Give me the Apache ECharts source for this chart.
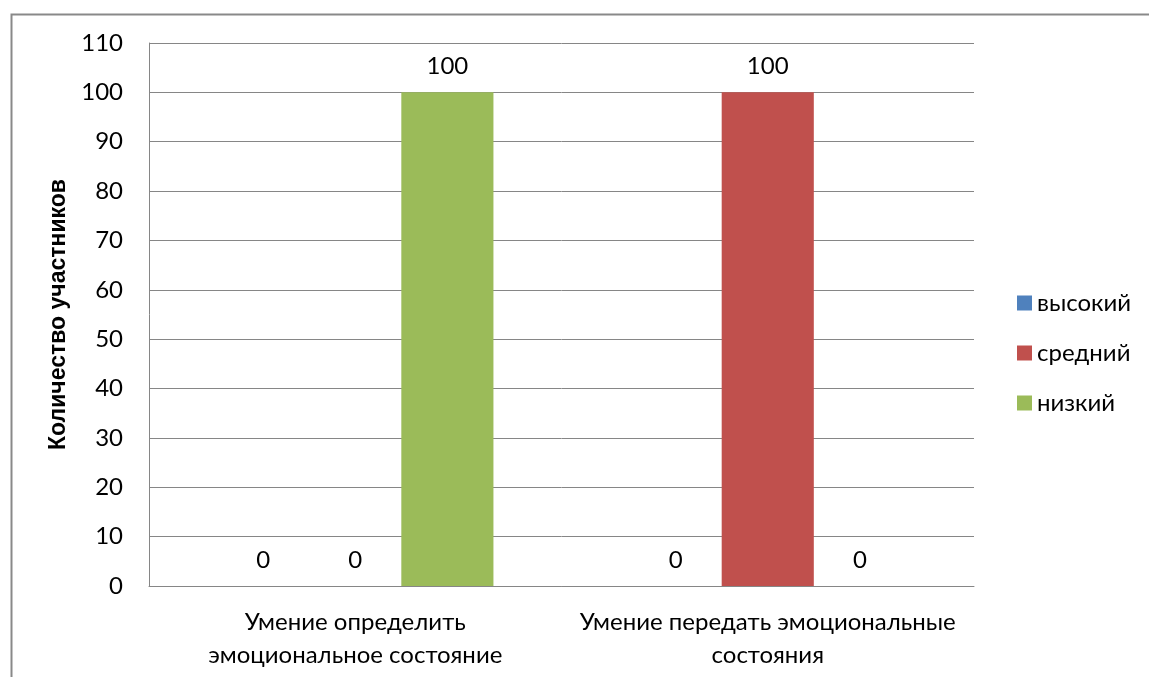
<!DOCTYPE html>
<html><head><meta charset="utf-8">
<script src="https://cdn.jsdelivr.net/npm/echarts@6/dist/echarts.min.js"></script>
<style>html,body{margin:0;padding:0;background:#fff}#c{width:1149px;height:677px}</style>
</head><body><div id="c"></div>
<script>
const categories = ['Умение определить\nэмоциональное состояние', 'Умение передать эмоциональные\nсостояния'];
const seriesNames = ['высокий', 'средний', 'низкий'];
const highValues = [0, 0];
const midValues = [0, 100];
const lowValues = [100, 0];
const yTicks = [0, 10, 20, 30, 40, 50, 60, 70, 80, 90, 100, 110];
const yTitle = 'Количество участников';

const colors = ['#4F81BD', '#C0504D', '#9BBB59'];
const FONT = 'Lato';
const FS = 24;
const chart = echarts.init(document.getElementById('c'), null, {renderer: 'canvas'});
const mk = (name, data, color) => ({
  name, type: 'bar', data, barGap: '0%', barCategoryGap: '33%',
  itemStyle: {color},
  label: {show: true, position: 'top', distance: 14, color: '#000', fontFamily: FONT, fontSize: FS}
});
chart.setOption({
  animation: false,
  textStyle: {fontFamily: FONT},
  graphic: [{type: 'rect', left: 9, top: 12, shape: {width: 1170, height: 700}, style: {fill: 'none', stroke: '#898989', lineWidth: 2}, silent: true}],
  grid: {left: 149, top: 43, right: 175, bottom: 91, containLabel: false},
  legend: {
    orient: 'vertical', left: 1012, top: 286, itemWidth: 15, itemHeight: 15, itemGap: 26,
    icon: 'rect', data: seriesNames,
    textStyle: {fontFamily: FONT, fontSize: FS, color: '#000'}
  },
  xAxis: {
    type: 'category', data: categories,
    axisLine: {lineStyle: {color: '#868686', width: 1}},
    axisTick: {show: false},
    axisLabel: {color: '#000', fontFamily: FONT, fontSize: FS, lineHeight: 33, margin: 20, interval: 0}
  },
  yAxis: {
    type: 'value', min: yTicks[0], max: yTicks[yTicks.length - 1], interval: 10,
    name: yTitle, nameLocation: 'middle', nameGap: 75, nameRotate: 90,
    nameTextStyle: {fontFamily: 'Liberation Sans', fontWeight: 'bold', fontSize: 23, color: '#000'},
    axisLine: {show: true, lineStyle: {color: '#868686', width: 1}},
    axisTick: {show: false},
    splitLine: {lineStyle: {color: '#868686', width: 1}},
    axisLabel: {color: '#000', fontFamily: FONT, fontSize: FS, margin: 26}
  },
  series: [mk(seriesNames[0], highValues, colors[0]), mk(seriesNames[1], midValues, colors[1]), mk(seriesNames[2], lowValues, colors[2])]
});
</script></body></html>
